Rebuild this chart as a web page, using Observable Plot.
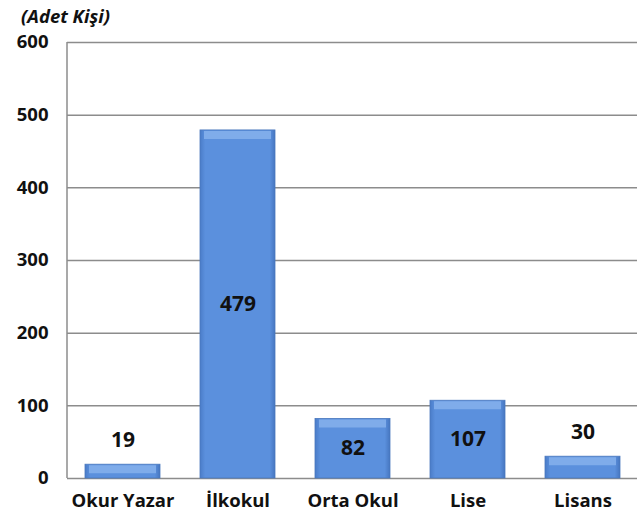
<!DOCTYPE html>
<html><head><meta charset="utf-8">
<script src="https://cdn.jsdelivr.net/npm/d3@7"></script>
<script src="https://cdn.jsdelivr.net/npm/@observablehq/plot@0.6"></script>
<style>
body{margin:0;background:#fff;font-family:"Open Sans",sans-serif;}
#wrap{position:relative;width:644px;height:517px;}
#title{position:absolute;left:21px;top:3px;font-weight:bold;font-style:italic;font-size:18.5px;color:#111;}
</style></head>
<body><div id="wrap"><div id="title">(Adet Kişi)</div></div>
<script>
const categories = ["Okur Yazar", "İlkokul", "Orta Okul", "Lise", "Lisans"];
const values = [19, 479, 82, 107, 30];
const yTicks = [0, 100, 200, 300, 400, 500, 600];

const data = categories.map((c, i) => ({cat: c, v: values[i]}));
const inside = data.filter(d => d.v > 50);
const outside = data.filter(d => d.v <= 50);

const chart = Plot.plot({
  width: 644, height: 517,
  marginTop: 42, marginBottom: 39, marginLeft: 67, marginRight: 7,
  style: {fontFamily: "'Open Sans', sans-serif", fontWeight: "bold", fontSize: "17px", color: "#111"},
  x: {domain: categories, label: null, paddingInner: 0.35, paddingOuter: 0.15},
  y: {domain: [0, 600], ticks: yTicks, label: null},
  marks: [
    Plot.gridY(yTicks, {stroke: "#8c8c8c", strokeOpacity: 1, strokeWidth: 1.5}),
    Plot.barY(data, {x: "cat", y: "v", fill: "url(#barGrad)", stroke: "#4a78bd", strokeWidth: 0.8}),
    Plot.tickY(data, {x: "cat", y: "v", stroke: "#86b2ec", strokeWidth: 8, dy: 4.5, inset: 4, strokeOpacity: 0.85}),
    Plot.text(inside, {x: "cat", y: d => d.v / 2, text: d => String(d.v), fontSize: 21, fontWeight: "bold", fill: "#111"}),
    Plot.text(outside, {x: "cat", y: "v", text: d => String(d.v), dy: -24, fontSize: 21, fontWeight: "bold", fill: "#111"}),
    Plot.axisY({ticks: yTicks, tickSize: 0, tickPadding: 19, fontSize: 18.5, fontWeight: "bold", label: null, tickFormat: d => String(d)}),
    Plot.axisX({tickSize: 0, tickPadding: 15, fontSize: 18.5, fontWeight: "bold", label: null})
  ]
});

const svg = d3.select(chart);
const defs = svg.insert("defs", ":first-child");
const g1 = defs.append("linearGradient").attr("id", "barGrad").attr("x1", "0").attr("x2", "1").attr("y1", "0").attr("y2", "0");
g1.append("stop").attr("offset", "0").attr("stop-color", "#4a7cc8");
g1.append("stop").attr("offset", "0.07").attr("stop-color", "#5b90dd");
g1.append("stop").attr("offset", "0.93").attr("stop-color", "#5b90dd");
g1.append("stop").attr("offset", "1").attr("stop-color", "#4676c0");

const y = chart.scale("y");
svg.append("line").attr("x1", 67).attr("x2", 67).attr("y1", y.apply(600)).attr("y2", y.apply(0)).attr("stroke", "#8c8c8c").attr("stroke-width", 1.5);

document.getElementById("wrap").appendChild(chart);
chart.style.position = "absolute"; chart.style.left = "0"; chart.style.top = "0";
</script></body></html>
